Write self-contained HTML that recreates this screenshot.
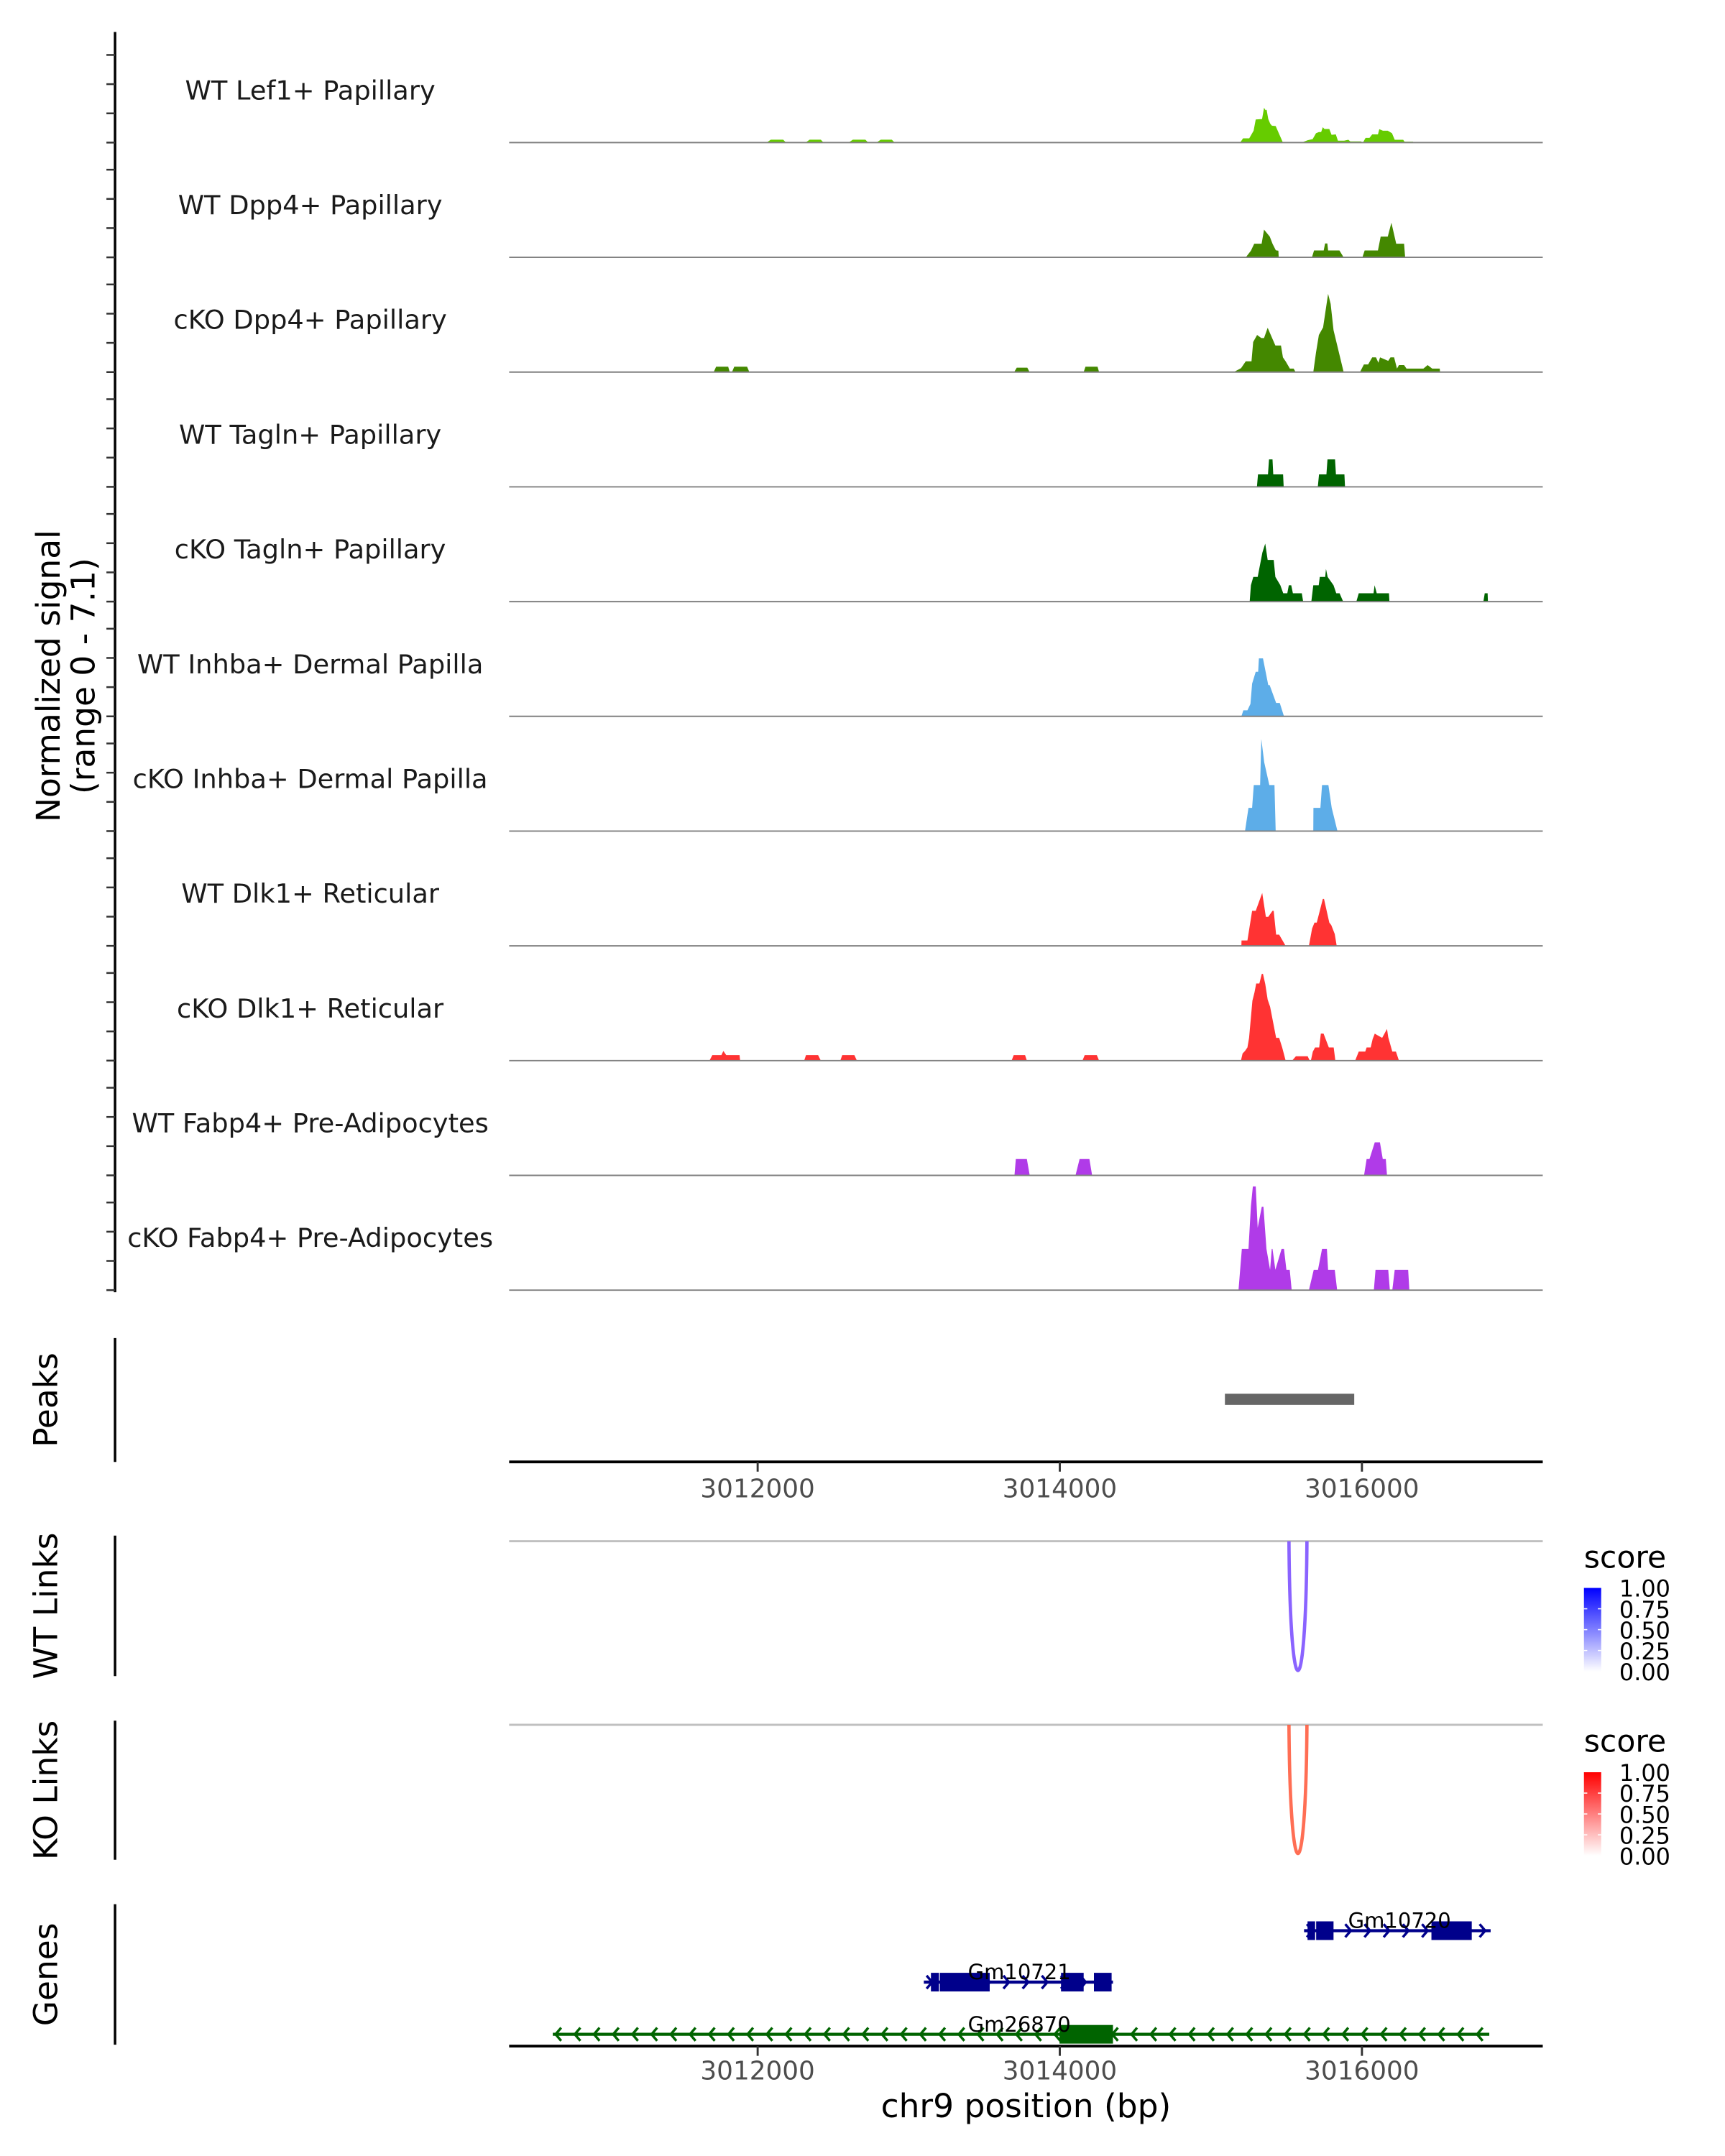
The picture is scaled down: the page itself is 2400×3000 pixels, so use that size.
<!DOCTYPE html>
<html><head><meta charset="utf-8"><title>Coverage plot</title>
<style>html,body{margin:0;padding:0;background:#fff}svg{display:block}text{font-family:"DejaVu Sans","Liberation Sans",sans-serif}</style>
</head><body>
<svg id="chart" xmlns="http://www.w3.org/2000/svg" width="2400" height="3000" viewBox="0 0 1240 1550">
<defs>
<linearGradient id="gBlue" x1="0" y1="1" x2="0" y2="0"><stop offset="0" stop-color="#ffffff"/><stop offset="1" stop-color="#0000ff"/></linearGradient>
<linearGradient id="gRed" x1="0" y1="1" x2="0" y2="0"><stop offset="0" stop-color="#ffffff"/><stop offset="1" stop-color="#ff0000"/></linearGradient>
</defs>
<g id="root"></g>
</svg>
<script>
// ---- data ----
const trackNames = ["WT Lef1+ Papillary","WT Dpp4+ Papillary","cKO Dpp4+ Papillary","WT Tagln+ Papillary","cKO Tagln+ Papillary","WT Inhba+ Dermal Papilla","cKO Inhba+ Dermal Papilla","WT Dlk1+ Reticular","cKO Dlk1+ Reticular","WT Fabp4+ Pre-Adipocytes","cKO Fabp4+ Pre-Adipocytes"];
const trackColors = ["#66cc00","#448800","#448800","#006400","#006400","#5dade8","#5dade8","#ff3333","#ff3333","#b03be8","#b03be8"];
const xTicks = [3012000,3014000,3016000];
const yTicks = [0,2,4,6];
const sigWTLef1 = [[3012059,0],[3012087,.2],[3012169,.2],[3012188,0],[3012317,0],[3012344,.2],[3012418,.2],[3012436,0],[3012602,0],[3012630,.2],[3012713,.2],[3012732,0],[3012786,0],[3012815,.2],[3012888,.2],[3012907,0],
[3015194,0],[3015213,.29],[3015254,.29],[3015283,.81],[3015297,1.58],[3015339,1.61],[3015352,2.38],[3015362,2.22],[3015369,2.25],[3015380,1.61],[3015393,1.29],[3015404,1.16],[3015429,1.13],[3015477,0],
[3015600,0],[3015641,.16],[3015674,.24],[3015696,.64],[3015715,.72],[3015730,.72],[3015741,1.05],[3015752,.93],[3015784,.93],[3015799,.53],[3015827,.56],[3015841,.13],[3015882,.13],[3015910,.19],[3015923,.08],[3015994,.08],[3016005,0],
[3016007,0],[3016011,.08],[3016024,.32],[3016050,.32],[3016068,.56],[3016106,.56],[3016115,.92],[3016139,.81],[3016171,.81],[3016199,.64],[3016217,.19],[3016273,.19],[3016282,.06],[3016338,.06],[3016342,0]];
const sigWTDpp4 = [[3015231,0],[3015265,.45],[3015287,.93],[3015336,.93],[3015352,1.9],[3015390,1.42],[3015408,.93],[3015430,.48],[3015447,.45],[3015449,0],
[3015669,0],[3015683,.47],[3015747,.47],[3015756,.95],[3015771,.95],[3015776,.47],[3015851,.47],[3015879,0],
[3016003,0],[3016018,.47],[3016106,.47],[3016124,1.42],[3016171,1.42],[3016195,2.37],[3016227,.93],[3016279,.93],[3016286,0]];
const sigKODpp4 = [[3011709,0],[3011725,.37],[3011805,.37],[3011815,0],[3011830,0],[3011845,.37],[3011930,.37],[3011945,0],[3013698,0],[3013715,.3],[3013785,.3],[3013800,0],[3014158,0],[3014170,.37],[3014250,.37],[3014260,0],
[3015151,0],[3015200,.27],[3015231,.74],[3015269,.74],[3015280,2.06],[3015306,2.54],[3015334,2.33],[3015352,2.33],[3015376,3.03],[3015427,1.82],[3015464,1.82],[3015477,1.01],[3015496,.72],[3015523,.24],[3015548,.24],[3015561,0],
[3015678,0],[3015696,1.34],[3015715,2.54],[3015743,3.06],[3015776,5.36],[3015793,4.67],[3015812,2.87],[3015879,0],
[3015987,0],[3016013,.52],[3016041,.52],[3016068,1.01],[3016093,1.01],[3016109,.64],[3016120,1.01],[3016174,.77],[3016189,1.01],[3016213,1.01],[3016232,.24],[3016245,.48],[3016279,.48],[3016295,.24],[3016407,.24],[3016435,.48],[3016465,.24],[3016515,.24],[3016517,0]];
const sigWTTagln = [[3015305,0],[3015312,.85],[3015378,.85],[3015385,1.88],[3015408,1.88],[3015413,.85],[3015478,.85],[3015482,0],[3015708,0],[3015716,.85],[3015765,.85],[3015772,1.88],[3015822,1.88],[3015828,.85],[3015884,.85],[3015888,0]];
const sigKOTagln = [[3015257,0],[3015265,1.12],[3015281,1.69],[3015310,1.69],[3015341,3.36],[3015360,3.97],[3015376,2.85],[3015416,2.85],[3015427,1.69],[3015460,1.12],[3015479,.57],[3015506,.57],[3015516,1.12],[3015532,1.12],[3015543,.57],[3015602,.57],[3015611,0],
[3015665,0],[3015678,1.12],[3015714,1.12],[3015721,1.69],[3015757,1.69],[3015762,2.24],[3015773,1.69],[3015812,1.12],[3015830,.57],[3015852,.57],[3015876,0],
[3015963,0],[3015979,.57],[3016077,.57],[3016084,1.12],[3016098,.57],[3016179,.57],[3016182,0],[3016804,0],[3016813,.57],[3016832,.57],[3016834,0]];
const sigWTInhba = [[3015202,0],[3015215,.41],[3015242,.41],[3015262,.85],[3015273,2.24],[3015297,3.05],[3015313,3.05],[3015318,3.97],[3015345,3.97],[3015380,2.14],[3015389,2.14],[3015432,.92],[3015456,.92],[3015484,0]];
const sigKOInhba = [[3015226,0],[3015249,1.59],[3015273,1.59],[3015284,3.15],[3015326,3.15],[3015334,6.31],[3015353,4.72],[3015387,3.15],[3015421,3.15],[3015429,0],
[3015678,0],[3015679,1.59],[3015725,1.59],[3015736,3.15],[3015778,3.15],[3015800,1.59],[3015838,0]];
const sigWTDlk1 = [[3015202,0],[3015203,.37],[3015242,.37],[3015273,2.4],[3015297,2.4],[3015340,3.62],[3015364,1.99],[3015380,1.99],[3015408,2.4],[3015416,2.4],[3015432,.77],[3015452,.77],[3015495,0],
[3015649,0],[3015670,1.18],[3015686,1.59],[3015701,1.59],[3015741,3.21],[3015749,3.21],[3015784,1.59],[3015797,1.42],[3015820,.81],[3015833,0]];
const sigKODlk1 = [[3011681,0],[3011700,.38],[3011760,.38],[3011773,.66],[3011792,.38],[3011880,.38],[3011884,0],[3012308,0],[3012320,.38],[3012400,.38],[3012418,0],[3012547,0],[3012560,.38],[3012640,.38],[3012657,0],[3013681,0],[3013695,.38],[3013770,.38],[3013782,0],[3014150,0],[3014165,.38],[3014245,.38],[3014260,0],
[3015199,0],[3015210,.49],[3015226,.66],[3015242,.9],[3015253,1.56],[3015275,4.1],[3015289,4.68],[3015300,5.28],[3015321,5.28],[3015337,5.94],[3015345,5.94],[3015360,5.25],[3015376,4.18],[3015392,3.69],[3015432,1.56],[3015452,1.56],[3015472,.9],[3015495,0],
[3015538,0],[3015563,.3],[3015641,.3],[3015654,0],[3015662,0],[3015675,.62],[3015690,.9],[3015717,.9],[3015728,1.85],[3015746,1.85],[3015781,.9],[3015813,.9],[3015824,0],
[3015955,0],[3015979,.62],[3016022,.62],[3016031,.9],[3016058,.9],[3016071,1.48],[3016085,1.85],[3016106,1.72],[3016134,1.56],[3016166,2.17],[3016174,1.61],[3016201,.62],[3016225,.62],[3016245,0]];
const sigWTFabp4 = [[3013700,0],[3013709,1.12],[3013782,1.12],[3013801,0],[3014104,0],[3014131,1.12],[3014196,1.12],[3014214,0],
[3016014,0],[3016031,1.12],[3016050,1.12],[3016085,2.26],[3016119,2.26],[3016138,1.12],[3016158,1.12],[3016166,0]];
const sigKOFabp4 = [[3015183,0],[3015205,2.82],[3015249,2.82],[3015265,5.74],[3015278,7.1],[3015297,7.1],[3015310,4.27],[3015337,5.71],[3015348,5.71],[3015368,2.82],[3015392,1.39],[3015403,2.82],[3015408,2.82],[3015427,1.39],[3015468,2.82],[3015484,2.82],[3015500,1.39],[3015522,1.39],[3015535,0],
[3015649,0],[3015681,1.39],[3015709,1.39],[3015736,2.82],[3015768,2.82],[3015776,1.39],[3015820,1.39],[3015836,0],
[3016079,0],[3016090,1.39],[3016174,1.39],[3016185,0],[3016201,0],[3016217,1.39],[3016306,1.39],[3016314,0]];
const trackSignals = [sigWTLef1,sigWTDpp4,sigKODpp4,sigWTTagln,sigKOTagln,sigWTInhba,sigKOInhba,sigWTDlk1,sigKODlk1,sigWTFabp4,sigKOFabp4];
const peakRegions = [[3015093,3015949]];
const wtLinks = [[3015517,3015636,0.7]];
const koLinks = [[3015517,3015636,0.7]];
const legendTicks = ["1.00","0.75","0.50","0.25","0.00"];
const geneNames = ["Gm10720","Gm10721","Gm26870"];
const geneStrands = ["+","+","-"];
const geneSpans = [[3015617,3016852],[3013100,3014352],[3010644,3016843]];
const geneExons = [[[3015640,3015690],[3015697,3015812],[3016460,3016727]],[[3013147,3013200],[3013206,3013536],[3014008,3014158],[3014226,3014343]],[[3013998,3014352]]];
const geneLabelPos = [3016249,3013732,3013732];

// ---- scales ----
const NS='http://www.w3.org/2000/svg';
const root=document.getElementById('root');
const PX0=366,PX1=1109,BP0=3010355,BP1=3017197;
function xs(bp){return PX0+(bp-BP0)*(PX1-PX0)/(BP1-BP0);}
const BASE0=102.5,STEP=82.5,PXU=10.5;
function base(k){return BASE0+STEP*k;}
function ys(k,v){return base(k)-v*PXU;}
function mk(tag,attrs,parent,text){const e=document.createElementNS(NS,tag);for(const a in attrs)e.setAttribute(a,attrs[a]);if(text!==undefined)e.textContent=text;(parent||root).appendChild(e);return e;}

// ---- signal tracks ----
const axSig=mk('line',{x1:82.7,y1:23,x2:82.7,y2:929,stroke:'#000','stroke-width':1.8});


trackNames.forEach((name,k)=>{
  const g=mk('g',{});
  
  
  const lab=mk('text',{x:223,y:base(k)-31,'text-anchor':'middle','font-size':19,fill:'#1a1a1a'},g,name);
  
  
  const pts=trackSignals[k];
  let d='';
  pts.forEach((p,i)=>{d+=(i?'L':'M')+xs(p[0]).toFixed(2)+','+ys(k,p[1]).toFixed(2);});
  const area=mk('path',{d:d+'Z',fill:trackColors[k],stroke:'none'},g);
  
  
  const bl=mk('line',{x1:PX0,y1:base(k),x2:PX1,y2:base(k),stroke:'#808080','stroke-width':1},g);
  
  
  yTicks.forEach(t=>{
    const tk=mk('line',{x1:76.5,x2:82.7,y1:ys(k,t),y2:ys(k,t),stroke:'#333','stroke-width':1.3},g);
    
    
  });
});
const yt=mk('text',{transform:'translate(43,486) rotate(-90)','text-anchor':'middle','font-size':23.5,fill:'#000'},root,'Normalized signal');


const yt2=mk('text',{transform:'translate(68,486) rotate(-90)','text-anchor':'middle','font-size':23.5,fill:'#000'},root,'(range 0 - 7.1)');



// ---- side titles / axes ----
function sideAxis(y0,y1,title,nm){
  const l=mk('line',{x1:82.7,y1:y0,x2:82.7,y2:y1,stroke:'#000','stroke-width':1.8});
  
  
  const t=mk('text',{transform:'translate(41,'+((y0+y1)/2)+') rotate(-90)','text-anchor':'middle','font-size':23.5,fill:'#000'},root,title);
  
  
}
sideAxis(962,1051,'Peaks','peaks');
sideAxis(1104,1205,'WT Links','wt-links');
sideAxis(1237,1337,'KO Links','ko-links');
sideAxis(1369,1470,'Genes','genes');

// ---- peaks ----
peakRegions.forEach(p=>{
  const r=mk('rect',{x:xs(p[0]),y:1002,width:xs(p[1])-xs(p[0]),height:8,fill:'#666'});
  
  
});

// ---- x axes ----
function xAxis(y,ly,nm){
  const l=mk('line',{x1:PX0,x2:PX1,y1:y,y2:y,stroke:'#000','stroke-width':2});
  
  
  xTicks.forEach(t=>{
    const tk=mk('line',{x1:xs(t),x2:xs(t),y1:y,y2:y+7,stroke:'#333','stroke-width':1.5});
    
    
    const tl=mk('text',{x:xs(t),y:ly,'text-anchor':'middle','font-size':18.5,fill:'#4d4d4d'},root,String(t));
    
    
  });
}
xAxis(1051,1076.5,'peaks-x-axis');
xAxis(1471,1495,'genes-x-axis');
const xt=mk('text',{x:(PX0+PX1)/2,y:1522,'text-anchor':'middle','font-size':23.5,fill:'#000'},root,'chr9 position (bp)');



// ---- links ----
function linkPanel(top,bottom,links,color,grad,legTop,nm){
  const gl=mk('line',{x1:PX0,x2:PX1,y1:top,y2:top,stroke:'#c0c0c0','stroke-width':1.5});
  
  
  links.forEach(l=>{
    const a=xs(l[0]),b=xs(l[1]);
    const cy=(bottom-0.25*top)/0.75;
    const p=mk('path',{d:'M'+a+','+top+' C'+(a+0.8)+','+cy+' '+(b-0.8)+','+cy+' '+b+','+top,fill:'none',stroke:color,'stroke-width':2.4,'stroke-opacity':0.6+0.4*l[2]});
    
    
  });
  const lg=mk('g',{});
  
  
  mk('text',{x:1138.6,y:legTop,'font-size':22,fill:'#000'},lg,'score');
  const barTop=legTop+14.6,barH=60;
  mk('rect',{x:1138.6,y:barTop,width:12.4,height:barH,fill:'url(#'+grad+')'},lg);
  legendTicks.forEach((t,i)=>{
    const ty=barTop+barH*i/4;
    if(i>0&&i<4){mk('line',{x1:1138.6,x2:1141,y1:ty,y2:ty,stroke:'#fff','stroke-width':0.8},lg);mk('line',{x1:1148.6,x2:1151,y1:ty,y2:ty,stroke:'#fff','stroke-width':0.8},lg);}
    mk('text',{x:1164,y:ty+6.3,'font-size':16.5,fill:'#000'},lg,t);
  });
}
linkPanel(1108,1201,wtLinks,'#7a4dff','gBlue',1127,'wt-links');
linkPanel(1240,1332.5,koLinks,'#ff5a3c','gRed',1259.5,'ko-links');

// ---- genes ----
const rowY=[1388,1425,1462.5];
const geneColors=['#00008b','#00008b','#006400'];
geneNames.forEach((gname,i)=>{
  const g=mk('g',{});
  
  
  const y=rowY[i],c=geneColors[i];
  const a=xs(geneSpans[i][0]),b=xs(geneSpans[i][1]);
  mk('line',{x1:a,x2:b,y1:y,y2:y,stroke:c,'stroke-width':2.2},g);
  for(let x=a+4;x<=b-2;x+=13.8){
    const d=geneStrands[i]==='+'?'M'+(x-2)+','+(y-4.7)+' L'+(x+2)+','+y+' L'+(x-2)+','+(y+4.7):'M'+(x+2)+','+(y-4.7)+' L'+(x-2)+','+y+' L'+(x+2)+','+(y+4.7);
    mk('path',{d:d,fill:'none',stroke:c,'stroke-width':1.8},g);
  }
  geneExons[i].forEach(e=>{
    const r=mk('rect',{x:xs(e[0]),y:y-6.7,width:xs(e[1])-xs(e[0]),height:13.4,fill:c},g);
    
    
  });
  const t=mk('text',{x:xs(geneLabelPos[i]),y:y-2,'text-anchor':'middle','font-size':15,fill:'#000'},g,gname);
  
  
});
</script>
</body></html>
